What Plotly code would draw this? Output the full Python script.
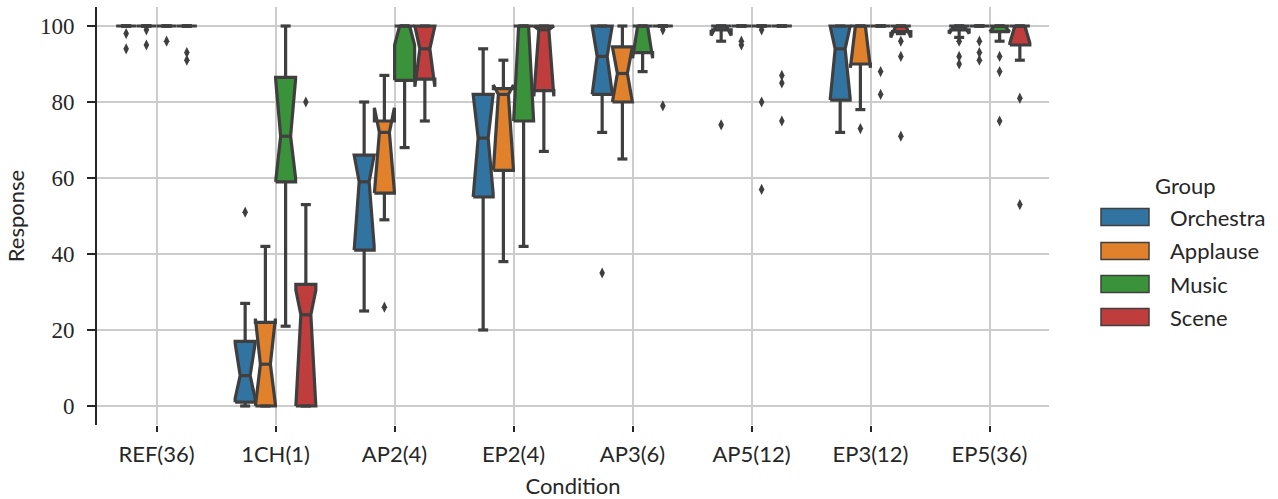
import plotly.graph_objects as go

categories = ["REF(36)", "1CH(1)", "AP2(4)", "EP2(4)", "AP3(6)", "AP5(12)", "EP3(12)", "EP5(36)"]
groups = ["Orchestra", "Applause", "Music", "Scene"]
colors = ["#3274a1", "#e1812c", "#3a923a", "#c03d3e"]

# Orchestra
orchestra_q1 = [100, 1, 41, 55, 82, 99, 80.5, 99]
orchestra_med = [100, 8, 59, 70.5, 92, 100, 94, 100]
orchestra_q3 = [100, 17, 66, 82, 100, 100, 100, 100]
orchestra_lo = [100, 0, 25, 20, 72, 96, 72, 97]
orchestra_hi = [100, 27, 80, 94, 100, 100, 100, 100]
orchestra_cilo = [100, 2, 42, 56, 82.5, 97.5, 81, 98]
orchestra_cihi = [100, 16.5, 66, 82, 100, 100, 100, 100]
orchestra_out = [[98, 94], [51], [], [], [35], [74], [], [96, 92, 90]]

# Applause
applause_q1 = [100, 0, 56, 62, 80, 100, 90, 100]
applause_med = [100, 11, 72, 82, 87.5, 100, 100, 100]
applause_q3 = [100, 22, 75, 83.5, 94.5, 100, 100, 100]
applause_lo = [100, 0, 49, 38, 65, 100, 78, 100]
applause_hi = [100, 42, 87, 91, 100, 100, 100, 100]
applause_cilo = [100, 0.5, 56.5, 62.5, 80, 100, 89, 100]
applause_cihi = [100, 23, 78.5, 84.5, 94.5, 100, 100, 100]
applause_out = [[99, 95], [], [26], [], [], [96, 95], [73], [96, 93, 91]]

# Music
music_q1 = [100, 59, 85.7, 75, 93, 100, 100, 98.5]
music_med = [100, 71, 100, 100, 100, 100, 100, 100]
music_q3 = [100, 86.5, 100, 100, 100, 100, 100, 100]
music_lo = [100, 21, 68, 42, 88, 100, 100, 96]
music_hi = [100, 100, 100, 100, 100, 100, 100, 100]
music_cilo = [100, 60, 95, 75, 91.5, 100, 100, 98.5]
music_cihi = [100, 86, 100, 100, 100, 100, 100, 100]
music_out = [[96], [], [], [], [], [99, 80, 57], [88, 82], [92, 88, 75]]

# Scene
scene_q1 = [100, 0, 86, 83, 100, 100, 98.5, 95]
scene_med = [100, 24, 94, 99, 100, 100, 100, 100]
scene_q3 = [100, 32, 100, 100, 100, 100, 100, 100]
scene_lo = [100, 0, 75, 67, 100, 100, 98, 91]
scene_hi = [100, 53, 100, 100, 100, 100, 100, 100]
scene_cilo = [100, 0, 84, 81.5, 100, 100, 97, 95.5]
scene_cihi = [100, 30.5, 100, 100, 100, 100, 100, 100]
scene_out = [[93, 91], [80], [], [], [99, 79], [87, 85, 75], [96, 92, 71], [81, 53]]

stats = [
    (orchestra_q1, orchestra_med, orchestra_q3, orchestra_lo, orchestra_hi, orchestra_cilo, orchestra_cihi, orchestra_out),
    (applause_q1, applause_med, applause_q3, applause_lo, applause_hi, applause_cilo, applause_cihi, applause_out),
    (music_q1, music_med, music_q3, music_lo, music_hi, music_cilo, music_cihi, music_out),
    (scene_q1, scene_med, scene_q3, scene_lo, scene_hi, scene_cilo, scene_cihi, scene_out),
]

EDGE = "#3f3f3f"
TXT = "#262626"
SLOT = 0.17
BOXW = 0.168
LW = 3.2
n_groups = len(groups)

fig = go.Figure()

line_traces = []
point_traces = []
for g, (q1s, meds, q3s, los, his, cilos, cihis, outs) in enumerate(stats):
    off = (g - (n_groups - 1) / 2) * SLOT
    lx, ly = [], []
    px, py = [], []
    for i in range(len(categories)):
        xc = i + off
        l, r = xc - BOXW / 2, xc + BOXW / 2
        cl, cr = xc - BOXW / 4, xc + BOXW / 4
        xs = [l, r, r, cr, r, r, l, l, cl, l, l]
        ys = [q1s[i], q1s[i], cilos[i], meds[i], cihis[i], q3s[i], q3s[i], cihis[i], meds[i], cilos[i], q1s[i]]
        fig.add_trace(go.Scatter(
            x=xs, y=ys, mode="lines", fill="toself", fillcolor=colors[g],
            line=dict(color=EDGE, width=LW), name=groups[g], legendgroup=groups[g],
            showlegend=False, hoverinfo="skip"))
        # whiskers, caps, median
        lx += [xc, xc, None, xc, xc, None,
               cl, cr, None, cl, cr, None, cl, cr, None]
        ly += [q1s[i], los[i], None, q3s[i], his[i], None,
               los[i], los[i], None, his[i], his[i], None, meds[i], meds[i], None]
        for v in outs[i]:
            px.append(xc)
            py.append(v)
    line_traces.append(go.Scatter(x=lx, y=ly, mode="lines", line=dict(color=EDGE, width=LW),
                                  showlegend=False, hoverinfo="skip"))
    point_traces.append(go.Scatter(x=px, y=py, mode="markers",
                                   marker=dict(symbol="diamond-tall", size=8, color=EDGE),
                                   showlegend=False, name=groups[g]))

for t in line_traces + point_traces:
    fig.add_trace(t)

# Manual legend (seaborn style)
L, PW = 97.0, 952.0
B, PH = 425.0, 418.0
def xp(p):
    return (p - L) / PW
def yp(p):
    return (B - p) / PH

legend_rows = [217, 251, 284, 317]
for g, yc in enumerate(legend_rows):
    fig.add_shape(type="rect", xref="paper", yref="paper",
                  x0=xp(1101), x1=xp(1149), y0=yp(yc + 8.5), y1=yp(yc - 8.5),
                  fillcolor=colors[g], line=dict(color=EDGE, width=1.5))
    fig.add_annotation(x=xp(1168), y=yp(yc), xref="paper", yref="paper",
                       text=groups[g], showarrow=False, xanchor="left", yanchor="middle",
                       font=dict(family="Lato", size=22, color=TXT))
fig.add_annotation(x=xp(1185), y=yp(185), xref="paper", yref="paper", text="Group",
                   showarrow=False, xanchor="center", yanchor="middle",
                   font=dict(family="Lato", size=22, color=TXT))

fig.update_layout(
    width=1278, height=499,
    margin=dict(l=97, r=229, t=7, b=74, autoexpand=False),
    plot_bgcolor="white", paper_bgcolor="white",
    showlegend=False,
    xaxis=dict(
        range=[-0.5, 7.5], tickmode="array", tickvals=list(range(len(categories))),
        ticktext=categories, showgrid=True, gridcolor="#cccccc", gridwidth=1.6,
        zeroline=False, showline=False, ticks="outside", ticklen=6, tickwidth=1.6,
        tickcolor=TXT, ticklabelstandoff=4, tickfont=dict(family="Lato", size=22, color=TXT),
        title=dict(text="Condition", font=dict(family="Lato", size=22, color=TXT), standoff=14),
    ),
    yaxis=dict(
        range=[-5, 105], tickmode="array", tickvals=[0, 20, 40, 60, 80, 100],
        showgrid=True, gridcolor="#cccccc", gridwidth=1.6, zeroline=False,
        showline=True, linecolor=TXT, linewidth=2, ticks="outside", ticklen=8,
        tickwidth=1.6, tickcolor=TXT, ticklabelstandoff=8,
        tickfont=dict(family="Liberation Serif", size=23, color=TXT),
        title=dict(text="Response", font=dict(family="Lato", size=22, color=TXT), standoff=9),
    ),
)

fig.write_html("out.html", config={"displayModeBar": False},
               post_script="document.body.style.margin='0';")
